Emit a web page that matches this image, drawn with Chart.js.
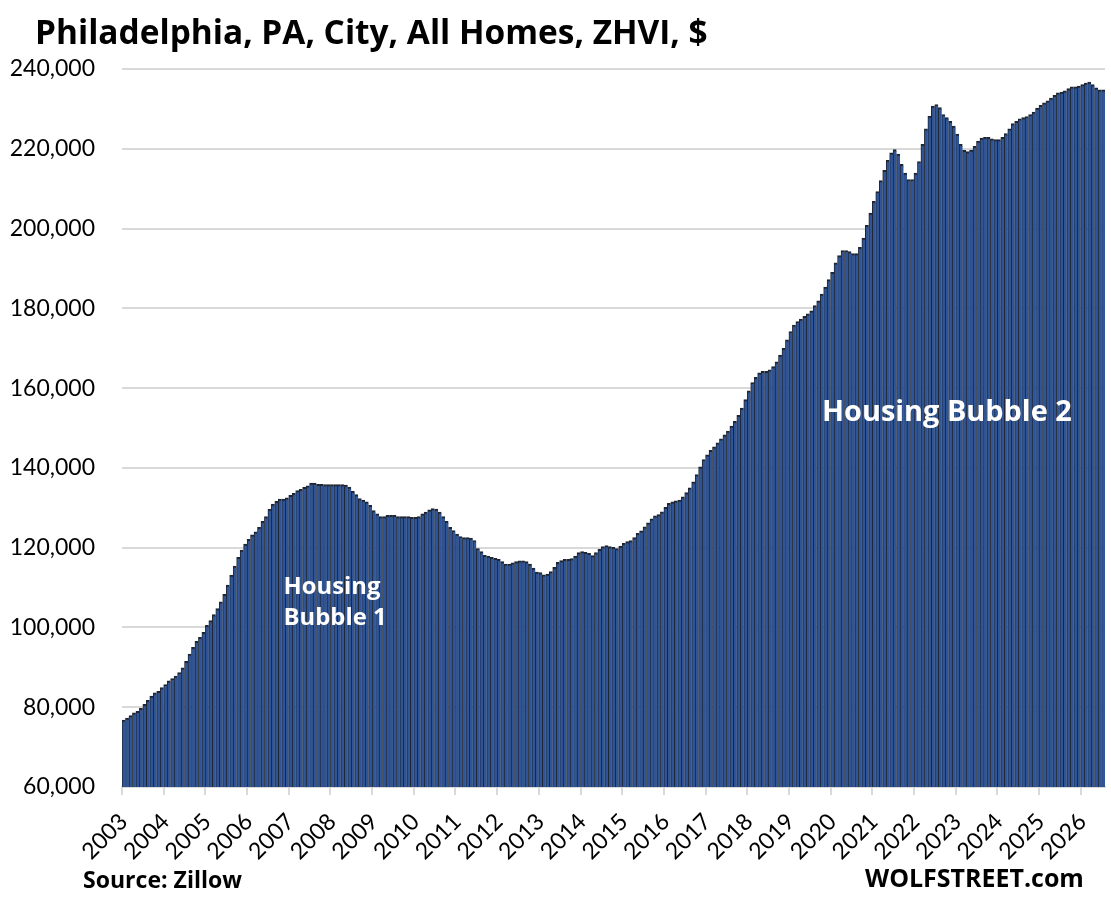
<!DOCTYPE html>
<html><head><meta charset="utf-8">
<script src="https://cdn.jsdelivr.net/npm/chart.js@4.4.1/dist/chart.umd.min.js"></script>
<style>
html,body{margin:0;padding:0;background:#fff;}
#wrap{position:relative;width:1111px;height:899px;overflow:hidden;}
canvas{display:block;position:absolute;left:0;top:0;}
.t{position:absolute;white-space:nowrap;font-family:"Open Sans",sans-serif;font-weight:700;line-height:1;margin:0;padding:0;}
.w{color:#ffffff;}
.k{color:#000000;}
</style>
</head><body>
<div id="wrap">
<canvas id="c" width="1111" height="899"></canvas>
<div id="title" class="t k">Philadelphia, PA, City, All Homes, ZHVI, $</div>
<div id="hb1a" class="t w">Housing</div>
<div id="hb1b" class="t w">Bubble 1</div>
<div id="hb2" class="t w">Housing Bubble 2</div>
<div id="src" class="t k">Source: Zillow</div>
<div id="wolf" class="t k">WOLFSTREET.com</div>
</div>
<script>
// ZHVI values, thousands of dollars, monthly
const v2003 = [76.8, 77.3, 77.9, 78.6, 79.0, 79.7, 80.7, 81.7, 82.8, 83.6, 84.0, 84.9];
const v2004 = [85.7, 86.6, 87.2, 87.8, 88.7, 89.9, 91.5, 93.3, 95.0, 96.5, 97.5, 98.8];
const v2005 = [100.5, 101.7, 103.2, 104.7, 106.4, 108.3, 110.6, 113.1, 115.4, 117.6, 119.4, 120.9];
const v2006 = [122.1, 123.2, 124.0, 125.1, 126.6, 127.8, 129.7, 130.9, 131.6, 132.2, 132.2, 132.5];
const v2007 = [133.1, 133.6, 134.3, 134.6, 135.1, 135.5, 136.2, 136.2, 135.9, 135.9, 135.8, 135.8];
const v2008 = [135.8, 135.8, 135.8, 135.8, 135.7, 135.2, 134.1, 133.3, 132.3, 131.9, 131.5, 130.6];
const v2009 = [129.3, 128.5, 127.8, 127.8, 128.1, 128.1, 128.1, 127.8, 127.8, 127.8, 127.8, 127.6];
const v2010 = [127.6, 127.8, 128.5, 128.9, 129.5, 129.8, 129.7, 128.9, 127.8, 126.6, 125.1, 124.3];
const v2011 = [123.4, 122.8, 122.5, 122.5, 122.4, 121.8, 119.8, 119.0, 118.1, 117.9, 117.6, 117.3];
const v2012 = [117.1, 116.5, 115.9, 115.9, 116.2, 116.5, 116.7, 116.7, 116.5, 115.9, 114.9, 113.9];
const v2013 = [113.75, 113.2, 113.4, 114.0, 115.1, 116.3, 116.75, 117.1, 117.1, 117.25, 117.9, 118.75];
const v2014 = [119.0, 118.8, 118.6, 118.0, 118.75, 119.6, 120.25, 120.5, 120.25, 120.1, 119.75, 120.4];
const v2015 = [121.1, 121.5, 121.75, 122.5, 123.6, 124.25, 125.25, 126.25, 127.2, 128.0, 128.3, 129.0];
const v2016 = [130.1, 131.1, 131.5, 131.75, 131.9, 132.75, 133.8, 135.0, 136.5, 138.3, 140.25, 142.1];
const v2017 = [143.3, 144.4, 145.25, 146.3, 147.3, 148.3, 149.25, 150.5, 151.7, 153.2, 155.0, 157.1];
const v2018 = [159.3, 161.4, 162.7, 163.8, 164.2, 164.2, 164.6, 165.4, 166.6, 168.3, 170.0, 172.1];
const v2019 = [174.2, 175.8, 176.7, 177.3, 178.0, 178.6, 179.4, 180.7, 181.9, 183.6, 185.3, 187.2];
const v2020 = [189.0, 191.4, 193.2, 194.5, 194.5, 194.2, 193.7, 193.7, 195.3, 197.6, 200.8, 203.9];
const v2021 = [206.8, 209.3, 212.0, 214.6, 217.1, 219.0, 219.8, 218.7, 216.1, 213.9, 212.3, 212.3];
const v2022 = [213.9, 216.8, 221.1, 225.0, 228.2, 230.7, 231.1, 230.3, 228.6, 227.8, 226.9, 225.7];
const v2023 = [223.7, 221.1, 219.6, 219.3, 219.7, 220.6, 221.9, 222.7, 222.9, 222.9, 222.5, 222.3];
const v2024 = [222.3, 222.9, 223.8, 225.0, 226.3, 226.9, 227.5, 227.8, 228.1, 228.6, 229.2, 230.2];
const v2025 = [230.9, 231.5, 232.0, 232.7, 233.4, 234.0, 234.2, 234.5, 235.1, 235.5, 235.5, 235.7];
const v2026 = [236.1, 236.5, 236.7, 236.1, 235.3, 234.8, 234.8];

const years = ['2003','2004','2005','2006','2007','2008','2009','2010','2011','2012','2013','2014',
               '2015','2016','2017','2018','2019','2020','2021','2022','2023','2024','2025','2026'];
const months = ['Jan','Feb','Mar','Apr','May','Jun','Jul','Aug','Sep','Oct','Nov','Dec'];
const yearValues = [v2003,v2004,v2005,v2006,v2007,v2008,v2009,v2010,v2011,v2012,v2013,v2014,
                    v2015,v2016,v2017,v2018,v2019,v2020,v2021,v2022,v2023,v2024,v2025,v2026];
const yTicks = [60000, 80000, 100000, 120000, 140000, 160000, 180000, 200000, 220000, 240000];

const categories = [];
const values = [];
yearValues.forEach((arr, yi) => {
  arr.forEach((v, mi) => { categories.push(months[mi] + ' ' + years[yi]); values.push(v * 1000); });
});

const FONT = 'Lato, "Open Sans", sans-serif';
const TICK_SIZE = 23;

const chart = new Chart(document.getElementById('c'), {
  type: 'bar',
  data: {
    labels: categories,
    datasets: [{
      data: values,
      backgroundColor: '#2F5597',
      borderColor: '#1F2633',
      borderWidth: { top: 2, left: 1, right: 0, bottom: 0 },
      categoryPercentage: 1.0,
      barPercentage: 1.0
    }]
  },
  options: {
    responsive: false,
    animation: false,
    layout: { padding: { top: 69, right: 6, left: 0, bottom: 0 } },
    plugins: { legend: { display: false }, tooltip: { enabled: false } },
    scales: {
      x: {
        afterFit(scale) { scale.height = 112; scale.paddingRight = 0; scale.paddingLeft = 0; },
        grid: { offset: true, drawOnChartArea: false, tickLength: 8, lineWidth: 2,
          color: (c) => (c.index % 12 === 0 ? '#D9D9D9' : 'rgba(0,0,0,0)') },
        border: { display: true, color: '#D9D9D9', width: 2 },
        ticks: { autoSkip: false, maxRotation: 45, minRotation: 45, padding: 13, color: '#000',
          font: { family: FONT, size: TICK_SIZE },
          callback: (val, idx) => (idx % 12 === 0 ? years[idx / 12] : '') }
      },
      y: {
        min: 60000, max: 240000,
        afterFit(scale) { scale.width = 122; },
        afterBuildTicks(scale) { scale.ticks = yTicks.map(v => ({ value: v })); },
        grid: { color: '#D9D9D9', lineWidth: 2, drawTicks: false },
        border: { display: false },
        ticks: { padding: 27, color: '#000', font: { family: FONT, size: TICK_SIZE },
          callback: (v) => Number(v).toLocaleString('en-US') }
      }
    }
  }
});

// HTML text overlays, sized to the reference widths and placed by baseline
const BASE_RATIO = 0.888; // baseline offset within a line-height:1 box (Open Sans)
function fitSize(el, targetW) {
  el.style.fontSize = '30px';
  const w = el.getBoundingClientRect().width;
  return w > 0 ? 30 * targetW / w : 30;
}
function place(el, size, left, baseline) {
  el.style.fontSize = size + 'px';
  el.style.left = left + 'px';
  el.style.top = (baseline - BASE_RATIO * size) + 'px';
}
const xs = chart.scales.x, ys = chart.scales.y;
const elTitle = document.getElementById('title');
place(elTitle, fitSize(elTitle, 673), 35, 45);
const elA = document.getElementById('hb1a');
const elB = document.getElementById('hb1b');
const s1 = fitSize(elA, 97);
place(elA, s1, xs.getPixelForValue(46), ys.getPixelForValue(108000));
place(elB, s1, xs.getPixelForValue(46), ys.getPixelForValue(100300));
const el2 = document.getElementById('hb2');
place(el2, fitSize(el2, 250), xs.getPixelForValue(201), ys.getPixelForValue(151600));
const elS = document.getElementById('src');
place(elS, fitSize(elS, 159), 83, 888);
const elW = document.getElementById('wolf');
place(elW, fitSize(elW, 219), 865, 887);
</script>
</body></html>
